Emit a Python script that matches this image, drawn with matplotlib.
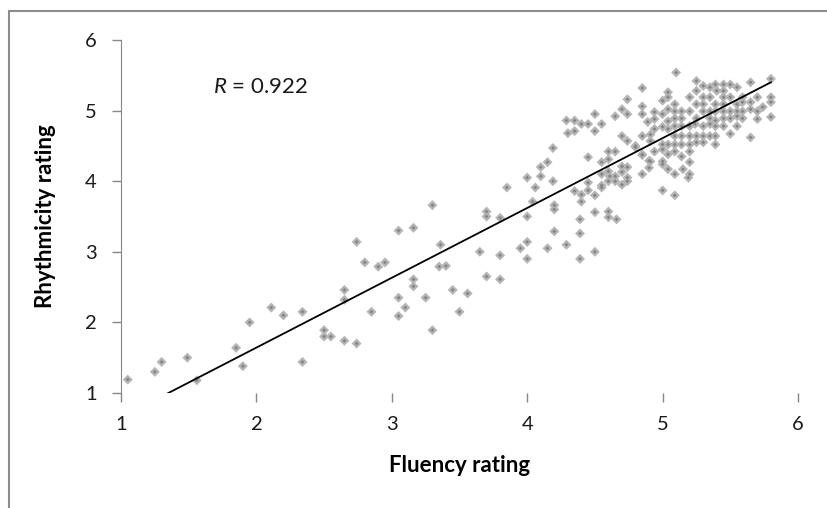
import numpy as np
import matplotlib
matplotlib.use("Agg")
from matplotlib import pyplot as plt
from matplotlib.patches import Rectangle

# values (fluency, rhythmicity), grouped by region
fluency = [
    1.05, 1.25, 1.30, 1.49, 1.56, 1.85, 1.90, 1.95, 2.11, 2.20,
    2.34, 2.34, 2.50, 2.50, 2.55, 2.65, 2.65, 2.65, 2.74, 2.74,
    2.80, 2.85, 2.90, 2.95, 3.05, 3.05, 3.05, 3.10, 3.16, 3.16,
    3.16, 3.25, 3.30, 3.30, 3.36, 3.35, 3.40, 3.45, 3.50, 3.56,
    3.65, 3.70, 3.70, 3.70, 3.80, 3.80, 3.80, 3.85, 3.95, 4.00,
    4.00, 4.00, 4.04, 4.06, 4.15, 4.20, 4.20, 4.20, 4.00, 4.10,
    4.10, 4.15, 4.19, 4.19,
    4.29, 4.35, 4.40, 4.45, 4.50, 4.55, 4.50, 4.30, 4.35, 4.65,
    4.29, 4.35, 4.40, 4.45, 4.45, 4.50, 4.55, 4.40, 4.39, 4.39,
    4.50, 4.50, 4.39, 4.45, 4.55, 4.60, 4.65, 4.60, 4.60, 4.65,
    4.60, 4.60, 4.66, 4.70, 4.74, 4.70, 4.74, 4.74, 4.70, 4.61,
    4.74, 4.55, 4.60, 4.65, 4.55, 4.70, 4.74, 4.74, 4.85, 4.70,
    4.85, 4.85, 4.80, 4.85, 4.85, 4.91, 4.91, 4.94, 4.94, 5.00,
    4.91, 4.94, 5.00, 5.00, 4.89, 4.94, 5.00, 4.85, 4.90, 4.90,
    4.80, 4.85, 5.00, 5.09, 5.00, 5.04, 5.09, 5.15, 5.20, 5.20,
    5.19, 5.04, 5.04, 5.04, 5.04, 5.04, 5.04, 5.00, 5.04, 5.10,
    5.25, 5.39, 5.45, 5.50, 5.65, 5.80,
    5.30, 5.35, 5.55, 5.25, 5.40, 5.45,
    5.20, 5.30, 5.35, 5.45, 5.50, 5.59, 5.70, 5.80,
    5.09, 5.25, 5.30, 5.39, 5.45, 5.55, 5.65, 5.74, 5.80, 5.59,
    5.09, 5.14, 5.20, 5.30, 5.35, 5.39, 5.45, 5.50, 5.55, 5.59, 5.65, 5.70,
    5.09, 5.14, 5.25, 5.35, 5.39, 5.45, 5.50, 5.55, 5.59, 5.70, 5.80,
    5.09, 5.14, 5.20, 5.30, 5.35, 5.39, 5.45, 5.55, 5.24,
    5.09, 5.14, 5.20, 5.25, 5.30, 5.35, 5.39, 5.50, 5.65,
    5.00, 5.09, 5.14, 5.20, 5.25, 5.30, 5.39,
    5.09, 5.20, 5.14,
]
rhythm = [
    1.19, 1.30, 1.44, 1.50, 1.18, 1.64, 1.38, 2.00, 2.21, 2.10,
    2.15, 1.44, 1.89, 1.80, 1.80, 1.74, 2.46, 2.32, 3.14, 1.70,
    2.85, 2.15, 2.79, 2.85, 3.30, 2.35, 2.09, 2.21, 3.34, 2.61,
    2.51, 2.35, 3.66, 1.89, 3.10, 2.79, 2.80, 2.46, 2.15, 2.41,
    3.00, 3.57, 3.50, 2.65, 3.48, 2.95, 2.61, 3.91, 3.05, 3.14,
    2.90, 3.50, 3.71, 3.91, 3.05, 3.66, 3.60, 3.29, 4.05, 4.20,
    4.07, 4.27, 4.00, 4.47,
    4.86, 4.86, 4.81, 4.81, 4.95, 4.81, 4.71, 4.68, 4.71, 4.92,
    3.10, 3.86, 3.81, 3.98, 3.87, 3.80, 3.91, 3.71, 3.46, 3.26,
    3.56, 3.00, 2.90, 4.34, 4.27, 4.42, 4.42, 4.31, 4.14, 4.07,
    3.57, 3.49, 3.46, 4.64, 4.57, 4.21, 4.20, 4.05, 3.95, 4.07,
    4.00, 4.10, 4.00, 4.00, 3.94, 5.02, 4.95, 5.16, 5.32, 4.13,
    5.06, 4.95, 4.48, 4.38, 4.64, 4.66, 4.57, 4.98, 4.88, 4.95,
    4.28, 4.42, 4.45, 4.28, 4.84, 4.74, 4.77, 4.10, 4.19, 4.29,
    4.50, 4.37, 3.87, 3.80, 4.24, 4.17, 4.10, 4.17, 4.27, 4.10,
    4.05, 5.19, 5.02, 4.74, 4.52, 4.38, 4.85, 5.14, 5.26, 5.54,
    5.42, 5.37, 5.37, 5.37, 5.40, 5.45,
    5.35, 5.33, 5.33, 5.28, 5.28, 5.28,
    5.19, 5.19, 5.19, 5.19, 5.19, 5.19, 5.19, 5.19,
    5.09, 5.09, 5.09, 5.09, 5.09, 5.09, 5.12, 5.05, 5.12, 5.12,
    4.99, 4.99, 4.99, 4.99, 4.99, 4.99, 4.99, 4.99, 4.99, 4.99, 5.02, 4.99,
    4.89, 4.89, 4.89, 4.89, 4.86, 4.89, 4.89, 4.92, 4.89, 4.88, 4.91,
    4.78, 4.78, 4.78, 4.78, 4.81, 4.78, 4.78, 4.78, 4.81,
    4.64, 4.64, 4.64, 4.64, 4.64, 4.64, 4.64, 4.67, 4.62,
    4.52, 4.52, 4.52, 4.52, 4.55, 4.55, 4.52,
    4.42, 4.42, 4.35,
]

# linear trendline as shown in the chart
trend_slope = 0.989
trend_intercept = -0.335
r_label = "$R$ = 0.922"
axis_ticks = [1, 2, 3, 4, 5, 6]

plt.rcParams['font.family'] = ['Lato', 'DejaVu Sans']
plt.rcParams['mathtext.fontset'] = 'custom'
plt.rcParams['mathtext.it'] = 'Lato:italic'
plt.rcParams['mathtext.rm'] = 'Lato'

fig = plt.figure(figsize=(8.27, 5.08), dpi=100)
ax = fig.add_axes([121 / 827, 115 / 508, 677 / 827, 353 / 508])

ax.scatter(fluency, rhythm, marker='D', s=26, c='#b5b5b5', edgecolors='none', zorder=2)
ax.scatter(fluency, rhythm, marker='D', s=4, c='#858585', edgecolors='none', zorder=2)

xs = np.array([min(fluency), max(fluency)])
ax.plot(xs, trend_slope * xs + trend_intercept, color='black', lw=1.3, zorder=3)

ax.set_xlim(1, 6)
ax.set_ylim(1, 6)
ax.set_xticks(axis_ticks)
ax.set_yticks(axis_ticks)

for side in ['top', 'right', 'bottom']:
    ax.spines[side].set_visible(False)
ax.spines['left'].set_color('#868686')
ax.tick_params(axis='both', direction='out', length=6.5, width=1, color='#868686',
               labelsize=14.5, labelcolor='#1a1a1a')
ax.tick_params(axis='y', pad=11)
ax.tick_params(axis='x', pad=10)

ax.set_xlabel('Fluency rating', fontsize=16, fontweight='bold', labelpad=16)
ax.set_ylabel('Rhythmicity rating', fontsize=16, fontweight='bold', labelpad=21)

ax.text(1.68, 5.33, r_label, fontsize=16, va='center', ha='left', color='#1a1a1a')

# chart frame, only the top and left edges fall inside the image
fig.add_artist(Rectangle((9 / 827, -0.5), 2, 1.5 - 11 / 508, transform=fig.transFigure,
                         fill=False, edgecolor='#8c8c8c', lw=1.5))

fig.savefig('out.png', dpi=100)
